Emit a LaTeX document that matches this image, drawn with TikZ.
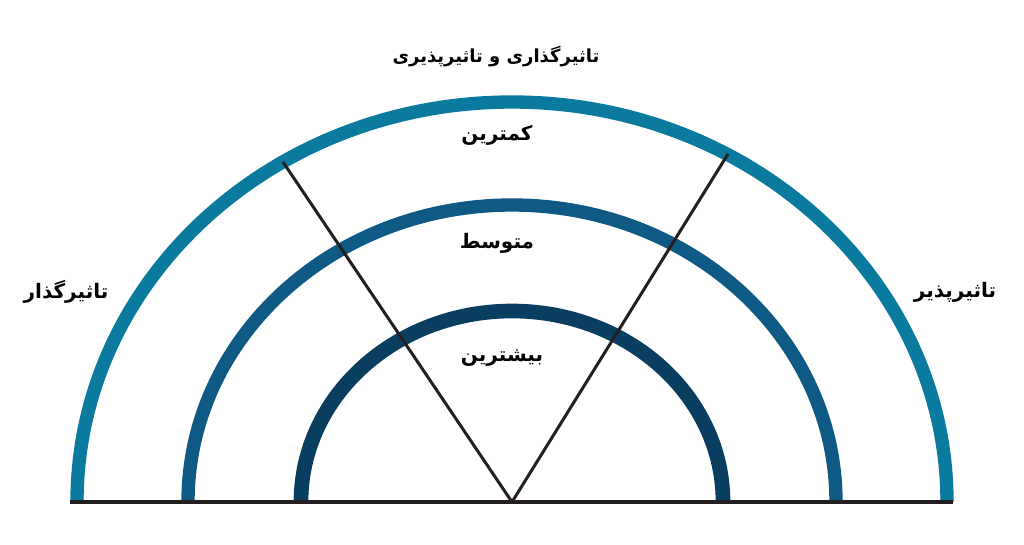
\documentclass[tikz,border=0pt]{standalone}
\usepackage{fontspec}
\newfontfamily\farsi[Script=Arabic]{DejaVu Sans}
\TeXXeTstate=1
\definecolor{ringout}{RGB}{10,122,158}
\definecolor{ringmid}{RGB}{14,90,132}
\definecolor{ringin}{RGB}{9,62,96}
\definecolor{inkline}{RGB}{35,31,32}

\begin{document}
\begin{tikzpicture}[x=0.75pt, y=0.75pt,
	ring/.style={line width=10pt},
	ray/.style={draw=inkline, line width=2.25pt},
	lbl/.style={font=\farsi\bfseries\fontsize{15}{17}\selectfont, inner sep=0pt},
	side/.style={font=\farsi\bfseries\fontsize{15}{17}\selectfont, inner sep=0pt}]
	\useasboundingbox (-512,-42) rectangle (512,502);

	% Rings {outer, middle, inner}
	\draw [ring, ringout] (-435,0) arc [start angle=180, end angle=0, x radius=435, y radius=400];
	\draw [ring, ringmid] (-324,0) arc [start angle=180, end angle=0, x radius=324, y radius=297];
	\draw [ring, ringin, line width=11pt] (-211,0) arc [start angle=180, end angle=0, x radius=211, y radius=191];

	% Nodes {o, a, b}
	\coordinate (o) at (0,0);
	\coordinate (a) at (-229,340);
	\coordinate (b) at (216,348);
	\coordinate (l) at (-442,0);
	\coordinate (r) at (441,0);

	% Paths
	\path [ray] (o) edge (a) (o) edge (b);
	\path [ray, line width=3pt] (l) edge (r);

	% Labels
	\node [lbl, font=\farsi\bfseries\fontsize{13.5}{15}\selectfont] (title) at (-16,445) {\beginR تاثیرگذاری و تاثیرپذیری\endR};
	\node [lbl] (low)  at (-15,367) {\beginR کمترین\endR};
	\node [lbl] (mid)  at (-15,259) {\beginR متوسط\endR};
	\node [lbl] (high) at (-10,144) {\beginR بیشترین\endR};
	\node [side] (giver) at (-446,210) {\beginR تاثیرگذار\endR};
	\node [side] (taker) at (443,210) {\beginR تاثیرپذیر\endR};
\end{tikzpicture}
\end{document}
